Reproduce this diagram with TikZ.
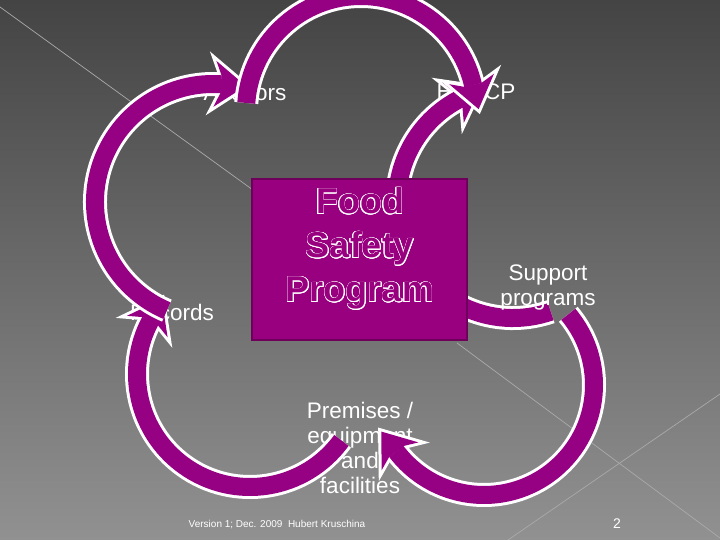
\documentclass[tikz,border=0pt]{standalone}
\usepackage{fontspec}
\setmainfont{Liberation Sans}
\usepackage{contour}
\contourlength{0.7pt}
\usetikzlibrary{decorations.markings}
\definecolor{arcpurple}{RGB}{150,0,130}
\definecolor{boxpurple}{RGB}{153,0,128}
\definecolor{boxedge}{RGB}{110,0,92}
\definecolor{bgtop}{RGB}{68,68,68}
\definecolor{bgbot}{RGB}{145,145,145}
\definecolor{faint}{RGB}{170,170,170}
\tikzset{
 whiteband/.style={line width=24pt, white, postaction={decorate, decoration={markings, mark=at position 0.999 with {\fill[white, draw=white, line width=6pt] (0,9) -- (-6,23) -- (25,0) -- (-6,-23) -- (0,-9) -- cycle;}}}},
 purpleband/.style={line width=18pt, arcpurple, postaction={decorate, decoration={markings, mark=at position 0.999 with {\fill[arcpurple] (0,9) -- (-6,23) -- (25,0) -- (-6,-23) -- (0,-9) -- cycle;}}}},
 lbl/.style={text=white, font=\fontsize{22.5}{25}\selectfont, align=center, inner sep=0pt},
 faintline/.style={faint, line width=0.7pt},
}
\newcommand\circarrow[4]{%
 \draw[whiteband] (#1) ++(#2:#4) arc[start angle=#2, end angle=#3, radius=#4];
 \draw[purpleband] (#1) ++(#2:#4) arc[start angle=#2, end angle=#3, radius=#4];}
\begin{document}
\begin{tikzpicture}[x=1pt,y=-1pt]
\useasboundingbox (0,0) rectangle (720,540);
\shade[top color=bgtop, bottom color=bgbot] (0,0) rectangle (720,540);
% faint decorative lines
\coordinate (f1) at (0,7);
\coordinate (f2) at (253,190);
\coordinate (f3) at (457,343);
\coordinate (f4) at (720,538);
\coordinate (f5) at (508,540);
\coordinate (f6) at (720,394);
\draw[faintline] (f1) -- (f2);
\draw[faintline] (f3) -- (f4);
\draw[faintline] (f5) -- (f6);
% labels
\node[lbl] (aud) at (245,92) {Auditors};
\node[lbl] (hac) at (476,92) {HACCP};
\node[lbl] (rec) at (172,312) {Records};
\node[lbl] (prem) at (360,448) {Premises /\\equipment\\and\\facilities};
% arc centres
\coordinate (cA) at (213,202);
\coordinate (cB) at (361,111);
\coordinate (cC) at (513,202);
\coordinate (cD) at (250,374);
\coordinate (cE) at (484,385);
\circarrow{cC}{71}{242}{116}
\circarrow{cD}{36}{208}{113}
\circarrow{cE}{-40}{143}{110}
\circarrow{cA}{113}{274}{118}
\circarrow{cB}{184}{347}{115}
% central box
\node[draw=boxedge, fill=boxpurple, line width=2pt, minimum width=215pt, minimum height=161pt, inner sep=0pt] (box) at (359.5,259.5) {};
\node[font=\fontsize{36}{44}\selectfont\bfseries, align=center, text=boxpurple, inner sep=0pt] (fsp) at (360,249) {\contour{white}{Food}\\\contour{white}{Safety}\\\contour{white}{Program}};
\node[lbl] (sup) at (548,287) {Support\\programs};
% footer
\node[text=white, font=\fontsize{10}{12}\selectfont, inner sep=0pt] (foot) at (277,525) {Version 1; Dec. 2009\ \ Hubert Kruschina};
\node[text=white, font=\fontsize{14}{16}\selectfont, inner sep=0pt] (pg) at (617,524) {2};
\end{tikzpicture}
\end{document}
